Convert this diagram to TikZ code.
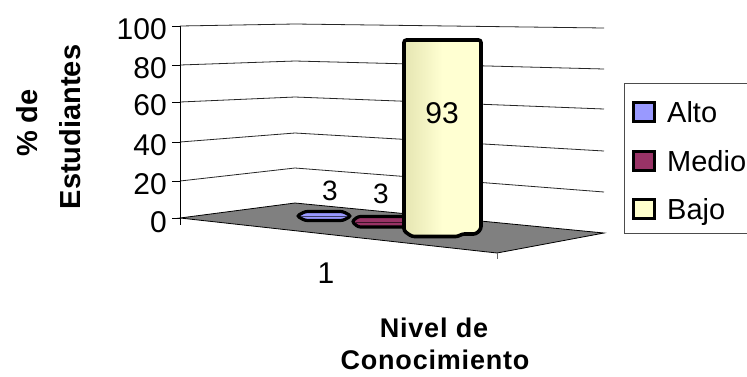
\documentclass[tikz,border=0pt]{standalone}
\usepackage{fontspec}
\setmainfont{Liberation Sans}
\newfontfamily\titlefont[LetterSpace=3]{Liberation Sans}
\definecolor{alto}{HTML}{9999FF}
\definecolor{medio}{HTML}{993366}
\definecolor{bajo}{HTML}{FFFFCC}
\definecolor{floorgray}{HTML}{808080}
\definecolor{bajoL}{HTML}{D8D8A4}
\definecolor{bajoL2}{HTML}{EAEAB8}
\definecolor{bajoC}{HTML}{FFFFD2}
\definecolor{bajoR}{HTML}{E2E2B0}
\pgfdeclarehorizontalshading{bajoshade}{100bp}{color(0bp)=(bajoL); color(30bp)=(bajoL2); color(50bp)=(bajoC); color(75bp)=(bajoC); color(100bp)=(bajoR)}
\begin{document}
\begin{tikzpicture}[x=1bp,y=-1bp,
  gridline/.style={line width=0.8bp, draw=black!85},
  ticktxt/.style={font=\fontsize{30bp}{34bp}\selectfont, inner sep=0pt, anchor=base east},
  vallbl/.style={font=\fontsize{28bp}{32bp}\selectfont, inner sep=0pt, anchor=base},
  axtitle/.style={font=\fontsize{29bp}{34bp}\selectfont\bfseries, inner sep=0pt, anchor=base},
  xtitle/.style={font=\fontsize{27bp}{30bp}\titlefont\bfseries, inner sep=0pt, anchor=base},
  legtxt/.style={font=\fontsize{29bp}{34bp}\selectfont, inner sep=0pt, anchor=base west},
  legbox/.style={line width=3bp, draw=black},
  barline/.style={line width=3.2bp, draw=black, rounded corners=2.5bp}]
\clip (0,0) rectangle (747,376);
\fill[white] (0,0) rectangle (747,376);
% gridlines
\foreach \l/\b/\r in {26/24/28, 65/61/69, 102/97/109, 142/133/151, 181/168/192}
  \draw[gridline] (180,\l) -- (295,\b) -- (604,\r);
% floor
\draw[fill=floorgray, line width=0.8bp] (180,218) -- (295,203) -- (604,233) -- (497,253) -- cycle;
% axis and ticks
\draw[line width=0.8bp] (180,26) -- (180,225);
\foreach \t in {26,65,102,142,181,218}
  \draw[line width=0.8bp] (172,\t) -- (180,\t);
\draw[line width=0.8bp, black!60] (497,253) -- (497,259);
% tick labels
\node[ticktxt] (t100) at (167,39) {100};
\node[ticktxt] (t80) at (167,78) {80};
\node[ticktxt] (t60) at (167,115.5) {60};
\node[ticktxt] (t40) at (167,155.5) {40};
\node[ticktxt] (t20) at (167,194.5) {20};
\node[ticktxt] (t0) at (167,232) {0};
% axis titles
\node[axtitle, rotate=90] (yt1) at (37,123) {\% de};
\node[axtitle, rotate=90] (yt2) at (80,127) {Estudiantes};
\node[xtitle] (xt1) at (434,337) {Nivel de};
\node[xtitle] (xt2) at (435,369) {Conocimiento};
\node[font=\fontsize{30bp}{34bp}\selectfont, inner sep=0pt, anchor=base] (cat1) at (326,283) {1};
% medio disc
\draw[barline, fill=medio] (352,221.5) -- (358,216.5) -- (405,216.5) -- (405,227) -- (358,227) -- cycle;
\draw[line width=1bp, black!60!medio] (356,222) -- (403,222);
% alto disc
\draw[barline, fill=alto] (297,216) -- (305,211.5) -- (343,211.5) -- (351,216) -- (343,220.5) -- (305,220.5) -- cycle;
\draw[line width=1bp, black!60!alto] (301,216.5) -- (347,216.5);
% bajo bar
\path[barline, line width=3.6bp, shade, shading=bajoshade] (404,40) -- (481,40) -- (481,229) -- (476,234) -- (462,234) -- (458,236.5) -- (412,236.5) -- (404,231) -- cycle;
% value labels
\node[vallbl] (v1) at (330,200) {3};
\node[vallbl] (v2) at (381,203) {3};
\node[font=\fontsize{30bp}{34bp}\selectfont, inner sep=0pt, anchor=base] (v3) at (442,123) {93};
% legend
\draw[line width=0.8bp, black!70] (760,83) -- (624,83) -- (624,233) -- (760,233);
\draw[legbox, fill=alto] (633.5,102.5) rectangle (654,121.5);
\draw[legbox, fill=medio] (633.5,151) rectangle (654,170.5);
\draw[legbox, fill=bajo] (633.5,199) rectangle (654,218.5);
\node[legtxt] (l1) at (667,122) {Alto};
\node[legtxt] (l2) at (667,171.5) {Medio};
\node[legtxt] (l3) at (667,219.5) {Bajo};
\end{tikzpicture}
\end{document}
